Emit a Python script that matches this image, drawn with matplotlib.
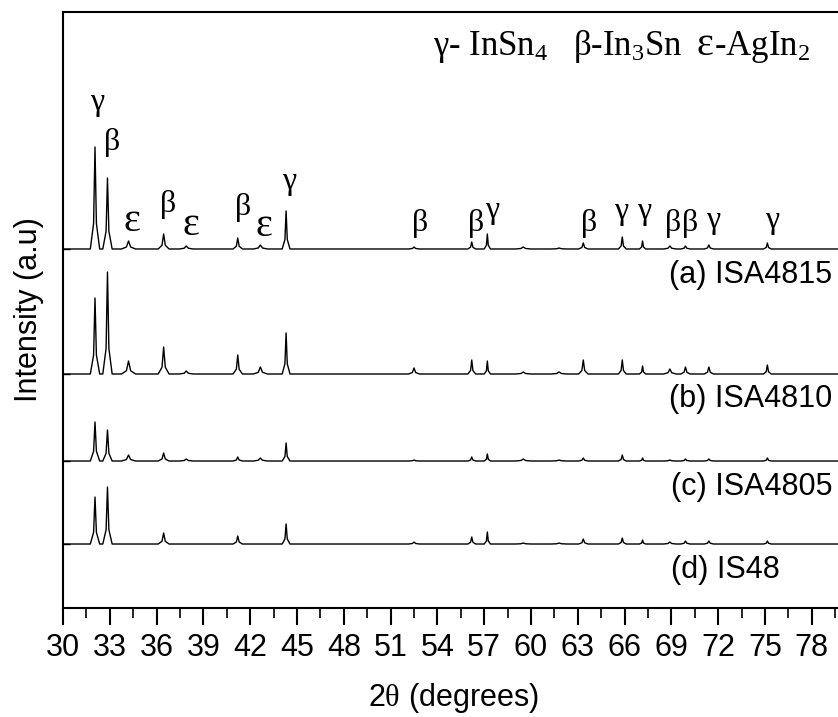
import numpy as np
import matplotlib.pyplot as plt

plt.rcParams['font.family'] = ['Liberation Sans', 'DejaVu Sans']
plt.rcParams['mathtext.fontset'] = 'custom'
plt.rcParams['mathtext.rm'] = 'Liberation Serif'

# peak positions 2theta (deg) and half base width (deg)
peak_pos = [32.05, 32.85, 34.2, 36.45, 37.9, 41.2, 42.65, 44.3, 52.5, 56.2,
            57.2, 59.5, 61.8, 63.35, 65.85, 67.15, 68.9, 69.9, 71.4, 75.15]
peak_width = [0.3, 0.3, 0.45, 0.35, 0.45, 0.3, 0.45, 0.25, 0.35, 0.25,
              0.2, 0.5, 0.5, 0.3, 0.25, 0.2, 0.4, 0.3, 0.3, 0.25]

# peak heights above each baseline (a.u.)
int_a = [102, 71, 8, 15, 3, 11, 4, 38, 2, 7, 15, 2, 1, 6, 12, 8, 3, 3, 4, 6]
int_b = [76, 102, 13, 27, 3, 19, 7, 41, 6, 14, 13, 2, 2, 14, 14, 8, 5, 7, 7, 9]
int_c = [39, 31, 6, 8, 2, 4, 3, 18, 1, 4, 7, 2, 1, 3, 6, 3, 1, 2, 2, 3]
int_d = [47, 57, 0, 11, 0, 8, 0, 20, 2, 7, 12, 1, 1, 5, 6, 4, 2, 3, 3, 3]

# vertical offset of each pattern (a.u.)
offsets = [359, 234, 147, 64]
samples = ['(a) ISA4815', '(b) ISA4810', '(c) ISA4805', '(d) IS48']

# phase labels over pattern (a)
phase_lab = ['γ', 'β', 'ε', 'β', 'ε', 'β', 'ε', 'γ', 'β', 'β', 'γ', 'β',
             'γ', 'γ', 'β', 'β', 'γ', 'γ']
phase_x = [32.18, 33.14, 34.42, 36.73, 38.2, 41.53, 42.88, 44.48, 52.87, 56.46,
           57.48, 63.70, 65.75, 67.22, 69.08, 70.17, 71.70, 75.48]
phase_y = [505, 465, 386, 403, 382, 400, 381, 426, 384, 384,
           397, 384, 396, 396, 384, 384, 387, 387]


def pattern(heights):
    """vertices of the pattern: one sharp peak per reflection"""
    xs = [30.0]
    ys = [0.0]
    for p, h, w in zip(peak_pos, heights, peak_width):
        if h <= 0:
            continue
        xs += [p - w, p - 0.3 * w, p, p + 0.3 * w, p + w]
        ys += [0, 0.25 * h, h, 0.25 * h, 0]
    xs.append(80.0)
    ys.append(0.0)
    return np.array(xs), np.array(ys)


fig = plt.figure(figsize=(8.38, 7.17), dpi=100)
ax = fig.add_axes([0.0752, 0.152, 0.9308, 0.8313])

for ints, off in zip([int_a, int_b, int_c, int_d], offsets):
    x, y = pattern(ints)
    ax.plot(x, y + off, '-k', lw=1.0)

# sample names
ax.text(79.3, 325, samples[0], ha='right', va='baseline', fontsize=22)
ax.text(79.3, 201, samples[1], ha='right', va='baseline', fontsize=22)
ax.text(79.3, 113, samples[2], ha='right', va='baseline', fontsize=22)
ax.text(75.96, 30, samples[3], ha='right', va='baseline', fontsize=22)

serif = ['Liberation Serif', 'DejaVu Serif']
for lab, px, py in zip(phase_lab, phase_x, phase_y):
    fs = 29 if lab == 'ε' else 23
    ax.text(px, py, lab, ha='center', va='center', fontsize=fs, family=serif)

# phase key
ax.text(53.7, 553, r'γ- InSn$\mathregular{_4}$', ha='left', va='baseline', fontsize=25, family=serif)
ax.text(62.67, 553, r'β-In$\mathregular{_3}$Sn', ha='left', va='baseline', fontsize=25, family=serif)
ax.text(70.6, 553, 'ε', ha='left', va='baseline', fontsize=29, family=serif)
ax.text(71.75, 553, r'-AgIn$\mathregular{_2}$', ha='left', va='baseline', fontsize=25, family=serif)

ax.set_xlim(30, 80)
ax.set_ylim(0, 596)
ax.set_xticks(np.arange(30, 81, 3))
ax.set_xticks(np.arange(31.5, 80, 3), minor=True)
ax.set_yticks(offsets)
ax.set_yticklabels([])
ax.tick_params(axis='x', which='major', direction='out', length=12, width=1.5, labelsize=22, pad=6)
ax.tick_params(axis='x', which='minor', direction='out', length=7, width=1.2)
ax.tick_params(axis='y', direction='in', length=5, width=1)
for s in ax.spines.values():
    s.set_linewidth(1.5)

ax.set_xlabel(r'2$\mathrm{\theta}$ (degrees)', fontsize=22, labelpad=13)
ax.set_ylabel('Intensity (a.u)', fontsize=22, labelpad=10)

plt.savefig('out.png', dpi=100)
